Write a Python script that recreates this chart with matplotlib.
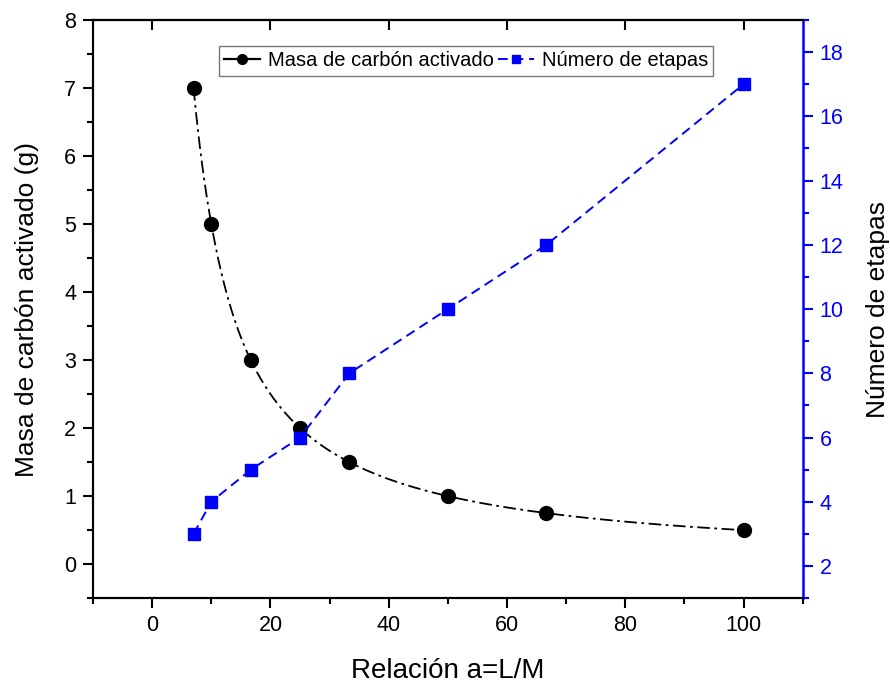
import numpy as np
import matplotlib.pyplot as plt
from matplotlib.ticker import MultipleLocator

plt.rcParams['font.family'] = ['Liberation Sans', 'DejaVu Sans']

# datos
relacion = [7, 10, 16.67, 25, 33.33, 50, 66.67, 100]
masa = [7, 5, 3, 2, 1.5, 1, 0.75, 0.5]
etapas = [3, 4, 5, 6, 8, 10, 12, 17]


def pchip(x, y, xs):
    # interpolacion monotona (suavizado tipo Origin) solo para el trazo
    x = np.asarray(x, float)
    y = np.asarray(y, float)
    h = np.diff(x)
    d = np.diff(y) / h
    m = np.zeros_like(y)
    for k in range(1, len(x) - 1):
        if d[k - 1] * d[k] > 0:
            w1 = 2 * h[k] + h[k - 1]
            w2 = h[k] + 2 * h[k - 1]
            m[k] = (w1 + w2) / (w1 / d[k - 1] + w2 / d[k])
    m[0] = ((2 * h[0] + h[1]) * d[0] - h[0] * d[1]) / (h[0] + h[1])
    if np.sign(m[0]) != np.sign(d[0]):
        m[0] = 0
    m[-1] = ((2 * h[-1] + h[-2]) * d[-1] - h[-1] * d[-2]) / (h[-1] + h[-2])
    if np.sign(m[-1]) != np.sign(d[-1]):
        m[-1] = 0
    idx = np.clip(np.searchsorted(x, xs) - 1, 0, len(x) - 2)
    t = (xs - x[idx]) / h[idx]
    h00 = 2 * t**3 - 3 * t**2 + 1
    h10 = t**3 - 2 * t**2 + t
    h01 = -2 * t**3 + 3 * t**2
    h11 = t**3 - t**2
    return h00 * y[idx] + h10 * h[idx] * m[idx] + h01 * y[idx + 1] + h11 * h[idx] * m[idx + 1]


fig = plt.figure(figsize=(8.9, 6.86), dpi=100)
ax = fig.add_axes([0.1045, 0.128, 0.7975, 0.843])
ax2 = ax.twinx()

# curva suavizada en escala log (solo trazo entre los puntos)
xs = np.linspace(relacion[0], relacion[-1], 400)
curva = np.exp(pchip(np.log(relacion), np.log(masa), np.log(xs)))
ax.plot(xs, curva, color='black', ls=(0, (7, 2.5, 1.5, 2.5)), lw=1.3)
ax.plot(relacion, masa, 'o', color='black', ms=10)
l1, = ax.plot([], [], color='black', ls='-', lw=1.6, marker='o', ms=10,
              label='Masa de carbón activado')

l2, = ax2.plot(relacion, etapas, color='blue', ls=(0, (5, 3)), lw=1.4,
               marker='s', ms=8.5, label='Número de etapas')

ax.set_xlim(-10, 110)
ax.set_ylim(-0.5, 8)
ax2.set_ylim(1, 19)

ax.xaxis.set_major_locator(MultipleLocator(20))
ax.xaxis.set_minor_locator(MultipleLocator(10))
ax.yaxis.set_major_locator(MultipleLocator(1))
ax.yaxis.set_minor_locator(MultipleLocator(0.5))
ax2.yaxis.set_major_locator(MultipleLocator(2))
ax2.yaxis.set_minor_locator(MultipleLocator(1))

ax.tick_params(axis='both', which='major', direction='out', length=7, width=1.5,
               labelsize=15.5, pad=5)
ax.tick_params(axis='both', which='minor', direction='out', length=4, width=1.5)
ax2.tick_params(axis='y', which='major', direction='out', length=7, width=1.5,
                labelsize=15.5, colors='blue', pad=5)
ax2.tick_params(axis='y', which='minor', direction='out', length=4, width=1.5,
                colors='blue')

for s in ['left', 'bottom', 'top']:
    ax.spines[s].set_linewidth(1.5)
    ax2.spines[s].set_linewidth(1.5)
ax2.spines['right'].set_linewidth(1.8)
ax2.spines['right'].set_color('blue')
ax.spines['right'].set_visible(False)

# marcas superiores hacia dentro
secx = ax.secondary_xaxis('top')
secx.xaxis.set_major_locator(MultipleLocator(20))
secx.tick_params(direction='in', length=7, width=1.5, labeltop=False)
secx.spines['top'].set_linewidth(1.5)

ax.set_xlabel('Relación a=L/M', fontsize=20, labelpad=16)
ax.set_ylabel('Masa de carbón activado (g)', fontsize=19, labelpad=18)
ax2.set_ylabel('Número de etapas', fontsize=19, labelpad=16, color='black')

leg = ax.legend([l1, l2], [l1.get_label(), l2.get_label()], ncol=2,
                loc='center', bbox_to_anchor=(466 / 890, 1 - 61 / 686),
                bbox_transform=fig.transFigure, fontsize=14.5, frameon=True,
                fancybox=False, edgecolor='#555555', handlelength=1.8,
                handletextpad=0.4, columnspacing=0.2, borderpad=0.25,
                markerscale=0.7)
leg.get_frame().set_linewidth(1.0)

fig.savefig('out.png', dpi=100)
